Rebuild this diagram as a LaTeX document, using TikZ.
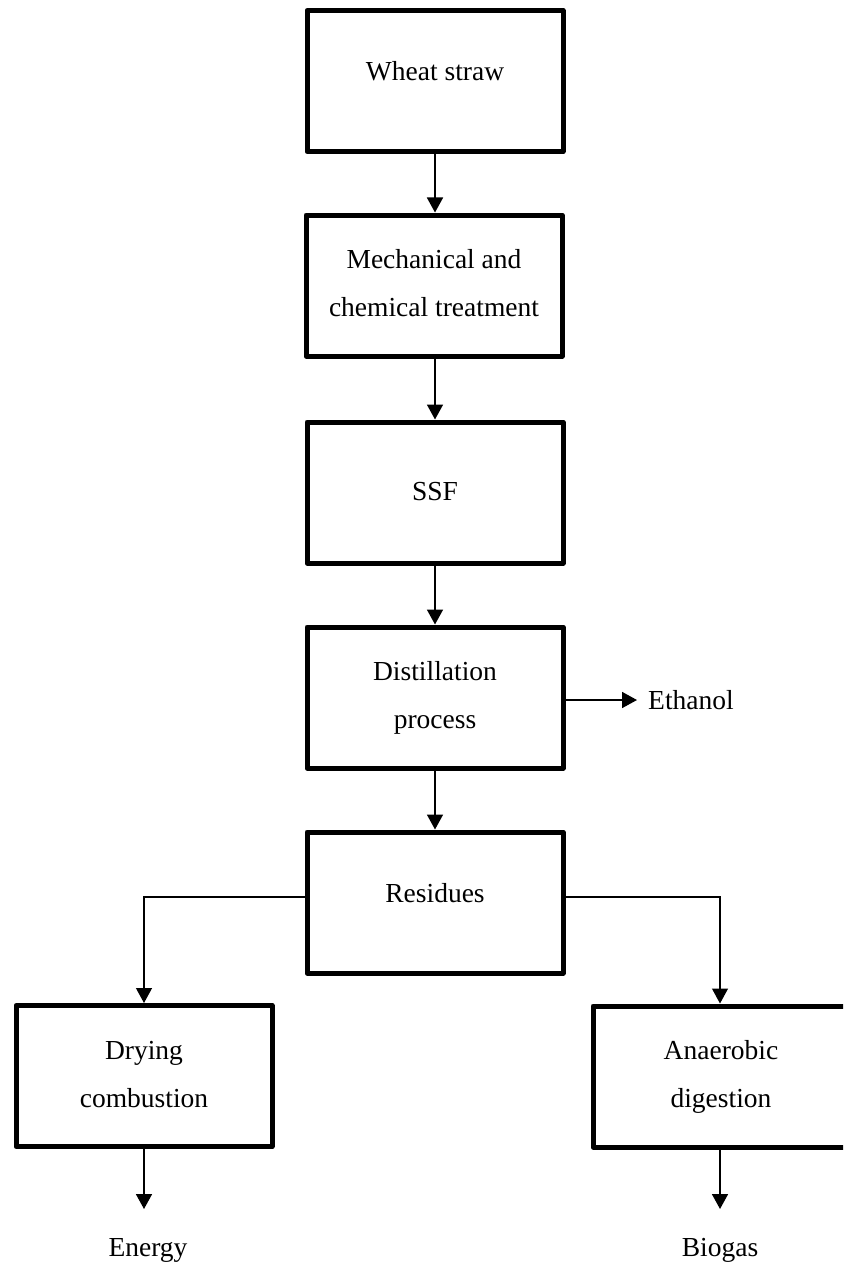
\documentclass[tikz,border=0pt]{standalone}
\usepackage{fontspec}
\setmainfont{Liberation Serif}
\usetikzlibrary{arrows.meta}
\begin{document}
\begin{tikzpicture}[x=1pt,y=-1pt,
  procbox/.style={draw,line width=5pt,line join=round,minimum width=256pt,minimum height=141pt,
    align=center,inner sep=0pt,font=\fontsize{27.5}{48}\selectfont},
  oneline/.style={text height=19pt,text depth=19pt},
  twoline/.style={text height=70pt,text depth=8pt},
  label/.style={inner sep=0pt,font=\fontsize{27.5}{32}\selectfont},
  tip/.style={-{Triangle[width=16pt,length=15pt]}},
  arr/.style={line width=1.7pt,tip},
  branch/.style={line width=1.2pt,tip}]
\clip (0,0) rectangle (843,1268);
\fill[white] (0,0) rectangle (843,1268);

% main process chain
\node[procbox,oneline] (straw) at (435,81) {Wheat straw};
\node[procbox,twoline] (treat) at (434,285.5) {Mechanical and\\chemical treatment};
\node[procbox,text height=19pt,text depth=4pt] (ssf) at (435,492.5) {SSF};
\node[procbox,twoline] (dist) at (435,697.5) {Distillation\\process};
\node[procbox,oneline] (res) at (435,902.5) {Residues};

% residue treatment routes
\node[procbox,twoline] (dry) at (144,1076) {Drying\\combustion};
\node[procbox,twoline] (anaer) at (721,1076.5) {Anaerobic\\digestion};

% products
\node[label,anchor=west] (eth) at (648,700) {Ethanol};
\node[label] (energy) at (148,1250) {Energy};
\node[label] (biogas) at (720,1250) {Biogas};
\coordinate (eend) at (144,1209);
\coordinate (bend) at (720,1209);
\coordinate (ethend) at (637,700);

\draw[arr] (straw.south) -- (treat.north -| straw.south);
\draw[arr] (treat.south -| straw.south) -- (ssf.north);
\draw[arr] (ssf.south) -- (dist.north);
\draw[arr] (dist.south) -- (res.north);
\draw[arr] (dist.east |- ethend) -- (ethend);
\draw[branch] ([yshift=5.5pt]res.west) -| (dry.north);
\draw[branch] ([yshift=5.5pt]res.east) -| (anaer.north -| bend);
\draw[arr] (dry.south) -- (eend);
\draw[arr] (anaer.south -| bend) -- (bend);
\end{tikzpicture}
\end{document}
